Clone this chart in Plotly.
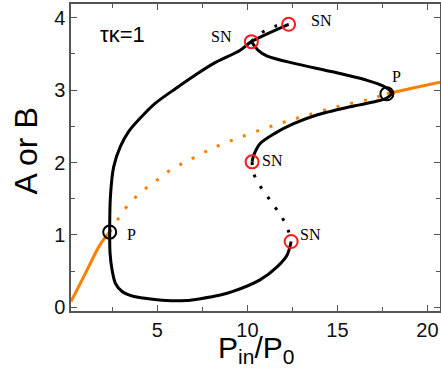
import plotly.graph_objects as go

# ---- data ----
# orange curve (single-mode solution): solid -> P1, dotted P1 -> P2, solid after P2
orange_x = [0.2, 1.0, 1.8, 2.35, 3.2, 3.74, 4.33, 4.89, 5.5, 6.18, 6.65, 7.43, 8.17, 9.5, 11.3, 13.0, 15.1, 16.7, 17.75, 19.2, 20.7]
orange_y = [0.08, 0.47, 0.86, 1.04, 1.36, 1.51, 1.64, 1.74, 1.86, 1.96, 2.02, 2.12, 2.21, 2.34, 2.50, 2.63, 2.78, 2.87, 2.95, 3.03, 3.11]
i_p1 = 3   # index of P1 in orange arrays
i_p2 = 18  # index of P2 in orange arrays

# black outer stable branch (SN2 -> SN1 -> down through P1 -> minimum -> SN4)
outer_x = [12.29, 10.22, 9.6, 8.13, 7.11, 6.0, 4.89, 3.96, 3.41, 2.94, 2.57, 2.39, 2.35, 2.37, 2.48, 2.67, 3.04, 3.7, 4.2, 5.5, 6.6, 7.4, 8.5, 9.2, 10.7, 11.65, 12.2, 12.43]
outer_y = [3.91, 3.67, 3.55, 3.37, 3.21, 3.02, 2.82, 2.59, 2.43, 2.22, 1.94, 1.53, 1.04, 0.75, 0.52, 0.33, 0.22, 0.15, 0.13, 0.094, 0.094, 0.12, 0.17, 0.22, 0.38, 0.56, 0.72, 0.91]

# black inner branch (SN1 -> P2 tip -> SN3)
inner_x = [10.22, 10.6, 11.1, 12.6, 14.8, 16.6, 17.6, 18.0, 17.8, 17.4, 15.7, 13.9, 12.6, 11.5, 10.7, 10.35, 10.26]
inner_y = [3.67, 3.55, 3.47, 3.37, 3.25, 3.14, 3.05, 2.96, 2.90, 2.86, 2.77, 2.66, 2.54, 2.40, 2.26, 2.10, 2.01]

# black unstable (dotted) branches
dot_up_x = [10.22, 10.78, 11.5, 12.29]
dot_up_y = [3.67, 3.79, 3.88, 3.91]
dot_lo_x = [10.26, 10.35, 10.67, 11.09, 11.52, 11.93, 12.26, 12.43]
dot_lo_y = [2.01, 1.85, 1.69, 1.54, 1.39, 1.24, 1.07, 0.91]

# bifurcation points
sn_x = [10.22, 12.29, 10.26, 12.43]
sn_y = [3.67, 3.91, 2.01, 0.91]
p_x = [2.35, 17.75]
p_y = [1.04, 2.95]

# labels
lab_text = ["SN", "SN", "SN", "SN", "P", "P"]
lab_x = [8.58, 14.14, 11.37, 13.5, 3.56, 18.3]
lab_y = [3.74, 3.96, 2.03, 1.00, 1.00, 3.19]

x_ticks = [5, 10, 15, 20]
y_ticks = [0, 1, 2, 3, 4]

ORANGE = "#ff8000"
SANS = "Arial, Liberation Sans, sans-serif"
SERIF = "Times New Roman, Liberation Serif, serif"

fig = go.Figure()

# orange
fig.add_trace(go.Scatter(x=orange_x[:i_p1 + 1], y=orange_y[:i_p1 + 1], mode="lines",
                         line=dict(color=ORANGE, width=3, shape="spline"), hoverinfo="skip"))
fig.add_trace(go.Scatter(x=orange_x[i_p1:i_p2 + 1], y=orange_y[i_p1:i_p2 + 1], mode="lines",
                         line=dict(color=ORANGE, width=3, dash="3px,11px", shape="spline"), hoverinfo="skip"))
fig.add_trace(go.Scatter(x=orange_x[i_p2:], y=orange_y[i_p2:], mode="lines",
                         line=dict(color=ORANGE, width=3, shape="spline"), hoverinfo="skip"))

# black
fig.add_trace(go.Scatter(x=outer_x, y=outer_y, mode="lines",
                         line=dict(color="black", width=3, shape="spline", smoothing=0.8), hoverinfo="skip"))
fig.add_trace(go.Scatter(x=inner_x, y=inner_y, mode="lines",
                         line=dict(color="black", width=3, shape="spline", smoothing=0.8), hoverinfo="skip"))
fig.add_trace(go.Scatter(x=dot_up_x, y=dot_up_y, mode="lines",
                         line=dict(color="black", width=3, dash="3px,11px", shape="spline"), hoverinfo="skip"))
fig.add_trace(go.Scatter(x=dot_lo_x, y=dot_lo_y, mode="lines",
                         line=dict(color="black", width=3, dash="3px,10px", shape="spline"), hoverinfo="skip"))

# markers
fig.add_trace(go.Scatter(x=sn_x, y=sn_y, mode="markers",
                         marker=dict(symbol="circle-open", size=13, color="#ff1a1a", line=dict(width=2))))
fig.add_trace(go.Scatter(x=p_x, y=p_y, mode="markers",
                         marker=dict(symbol="circle-open", size=13, color="black", line=dict(width=2))))

for t, x, y in zip(lab_text, lab_x, lab_y):
    fig.add_annotation(x=x, y=y, xref="x", yref="y", text=t, showarrow=False,
                       xanchor="center", yanchor="middle",
                       font=dict(family=SERIF, size=16, color="black"))

fig.add_annotation(x=3.06, y=3.77, xref="x", yref="y", text="τκ=1", showarrow=False,
                   xanchor="center", yanchor="middle", font=dict(family=SANS, size=22, color="black"))

# axis titles
fig.add_annotation(x=0.5, y=-0.125, xref="paper", yref="paper",
                   text="P<sub>in</sub>/P<sub>0</sub>", showarrow=False,
                   xanchor="center", yanchor="middle", font=dict(family=SANS, size=30, color="black"))
fig.add_annotation(x=-0.121, y=0.521, xref="paper", yref="paper", text="A or B",
                   textangle=-90, showarrow=False, xanchor="center", yanchor="middle",
                   font=dict(family=SANS, size=32, color="black"))

axis_common = dict(showgrid=False, zeroline=False, showline=True, linecolor="#555555", linewidth=1.5,
                   mirror="ticks", ticks="inside", ticklen=6, tickcolor="#555555", tickwidth=1,
                   automargin=False,
                   tickfont=dict(family=SANS, size=20, color="#111111"))

fig.update_xaxes(range=[0.2, 20.7], tickvals=x_ticks, ticktext=[str(v) for v in x_ticks],
                 minor=dict(tickvals=[2.5, 7.5, 12.5, 17.5], ticks="inside", ticklen=4, tickcolor="#555555"),
                 **axis_common)
fig.update_yaxes(range=[-0.05, 4.19], tickvals=y_ticks, ticktext=[str(v) for v in y_ticks],
                 minor=dict(tickvals=[0.5, 1.5, 2.5, 3.5], ticks="inside", ticklen=4, tickcolor="#555555"),
                 **axis_common)

fig.update_layout(width=441, height=379, margin=dict(l=71, r=1, t=4, b=68),
                  plot_bgcolor="white", paper_bgcolor="white", showlegend=False)

fig.write_html("out.html", config={"displayModeBar": False},
               post_script="document.body.style.margin='0';document.body.style.padding='0';"
                           "document.body.style.overflow='hidden';")
